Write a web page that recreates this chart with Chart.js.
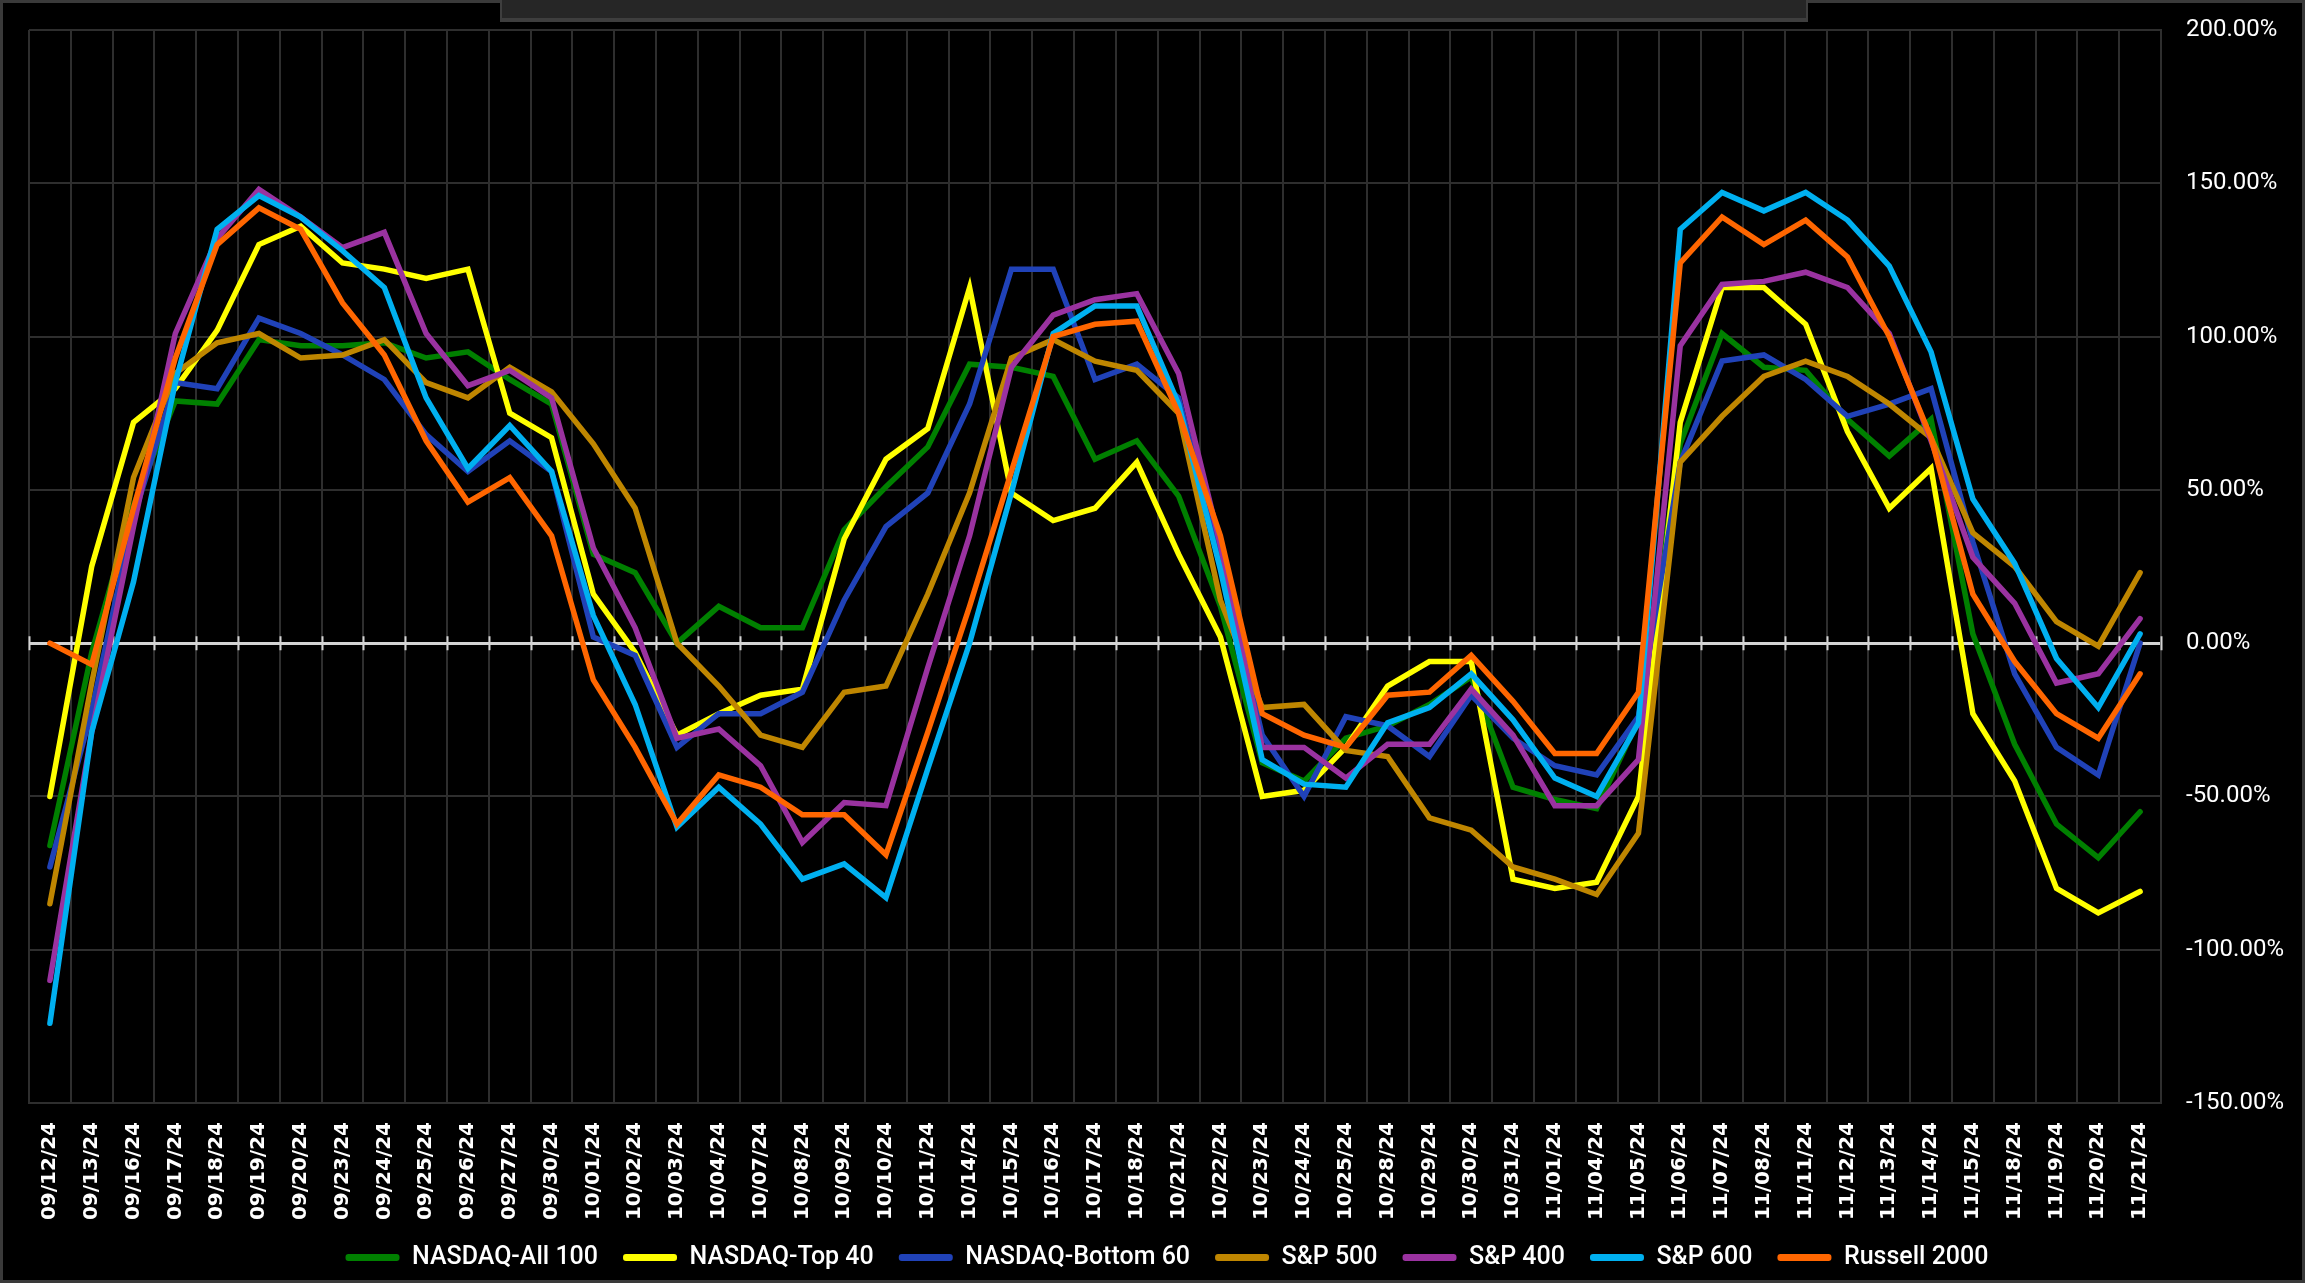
<!DOCTYPE html>
<html>
<head>
<meta charset="utf-8">
<title>Index momentum</title>
<script src="https://cdn.jsdelivr.net/npm/chart.js@4.4.1/dist/chart.umd.min.js"></script>
<style>
  html, body { margin: 0; padding: 0; background: #000; }
  #wrap { width: 2305px; height: 1283px; }
</style>
</head>
<body>
<div id="wrap"><canvas id="chart" width="2305" height="1283"></canvas></div>
<script>
// categories (trading days)
const labels = [
  '09/12/24', '09/13/24', '09/16/24', '09/17/24', '09/18/24', '09/19/24', '09/20/24',
  '09/23/24', '09/24/24', '09/25/24', '09/26/24', '09/27/24', '09/30/24', '10/01/24',
  '10/02/24', '10/03/24', '10/04/24', '10/07/24', '10/08/24', '10/09/24', '10/10/24',
  '10/11/24', '10/14/24', '10/15/24', '10/16/24', '10/17/24', '10/18/24', '10/21/24',
  '10/22/24', '10/23/24', '10/24/24', '10/25/24', '10/28/24', '10/29/24', '10/30/24',
  '10/31/24', '11/01/24', '11/04/24', '11/05/24', '11/06/24', '11/07/24', '11/08/24',
  '11/11/24', '11/12/24', '11/13/24', '11/14/24', '11/15/24', '11/18/24', '11/19/24',
  '11/20/24', '11/21/24'
];

// series values, percent
const nasdaqAll100 = [-66, -3, 45, 79, 78, 99, 97, 97, 98, 93, 95, 86, 78, 29, 23, 0, 12, 5, 5, 37, 51, 64, 91, 90, 87, 60, 66, 48, 12, -39, -45, -31, -27, -20, -11, -47, -51, -54, -25, 65, 101, 90, 89, 73, 61, 73, 3, -33, -59, -70, -55];
const nasdaqTop40 = [-50, 25, 72, 83, 102, 130, 136, 124, 122, 119, 122, 75, 67, 16, -3, -30, -23, -17, -15, 34, 60, 70, 116, 49, 40, 44, 59, 29, 2, -50, -48, -34, -14, -6, -6, -77, -80, -78, -50, 72, 116, 116, 104, 69, 44, 57, -23, -45, -80, -88, -81];
const nasdaqBottom60 = [-73, -22, 41, 85, 83, 106, 101, 94, 86, 68, 56, 66, 56, 2, -4, -34, -23, -23, -16, 14, 38, 49, 78, 122, 122, 86, 91, 80, 28, -30, -50, -24, -27, -37, -17, -31, -40, -43, -24, 59, 92, 94, 86, 74, 78, 83, 33, -10, -34, -43, 0];
const sp500 = [-85, -13, 54, 88, 98, 101, 93, 94, 99, 85, 80, 90, 82, 65, 44, 0, -14, -30, -34, -16, -14, 16, 49, 93, 99, 92, 89, 75, 14, -21, -20, -35, -37, -57, -61, -73, -77, -82, -62, 59, 74, 87, 92, 87, 78, 67, 36, 25, 7, -1, 23];
const sp400 = [-110, -29, 38, 101, 132, 148, 139, 129, 134, 101, 84, 89, 80, 31, 5, -31, -28, -40, -65, -52, -53, -8, 35, 90, 107, 112, 114, 88, 32, -34, -34, -44, -33, -33, -15, -30, -53, -53, -38, 97, 117, 118, 121, 116, 101, 66, 28, 13, -13, -10, 8];
const sp600 = [-124, -29, 20, 85, 135, 146, 139, 128, 116, 80, 57, 71, 56, 9, -20, -60, -47, -59, -77, -72, -83, -41, 0, 49, 101, 110, 110, 78, 24, -38, -46, -47, -26, -21, -10, -25, -44, -50, -26, 135, 147, 141, 147, 138, 123, 95, 47, 26, -5, -21, 3];
const russell2000 = [0, -7, 44, 93, 130, 142, 135, 111, 94, 66, 46, 54, 35, -12, -34, -59, -43, -47, -56, -56, -69, -29, 12, 56, 100, 104, 105, 75, 35, -23, -30, -34, -17, -16, -4, -19, -36, -36, -16, 124, 139, 130, 138, 126, 100, 67, 16, -6, -23, -31, -10];

const seriesNames = ['NASDAQ-All 100', 'NASDAQ-Top 40', 'NASDAQ-Bottom 60', 'S&P 500', 'S&P 400', 'S&P 600', 'Russell 2000'];
const seriesValues = [nasdaqAll100, nasdaqTop40, nasdaqBottom60, sp500, sp400, sp600, russell2000];
const seriesColors = ['#008000', '#FFFF00', '#2042B8', '#BF8600', '#9A32A0', '#00B0F0', '#FF6600'];

// y axis tick range
const yMin = -150;
const yMax = 200;
const yStep = 50;

const gridColor = '#2e2e2e';

// black page, frame and the grey header bar at the top
const framePlugin = {
  id: 'frame',
  beforeDraw(chart) {
    const ctx = chart.ctx;
    ctx.save();
    ctx.fillStyle = '#000';
    ctx.fillRect(0, 0, chart.width, chart.height);
    ctx.strokeStyle = '#3a3a3a';
    ctx.lineWidth = 3;
    ctx.strokeRect(1.5, 1.5, chart.width - 3, chart.height - 3);
    ctx.fillStyle = '#3e3e3e';
    ctx.fillRect(500, 0, 1308, 22);
    ctx.fillStyle = '#262626';
    ctx.fillRect(502, 0, 1304, 18);
    ctx.restore();
  }
};

// small tick marks on the zero line at every category boundary
const zeroTicksPlugin = {
  id: 'zeroTicks',
  beforeDatasetsDraw(chart) {
    const ctx = chart.ctx;
    const area = chart.chartArea;
    const y0 = chart.scales.y.getPixelForValue(0);
    const step = (area.right - area.left) / labels.length;
    ctx.save();
    ctx.strokeStyle = '#d4d4d4';
    ctx.lineWidth = 2;
    ctx.beginPath();
    for (let i = 0; i <= labels.length; i++) {
      const x = Math.round(area.left + i * step) + 0.5;
      ctx.moveTo(x, y0 - 7);
      ctx.lineTo(x, y0 + 7);
    }
    ctx.stroke();
    ctx.restore();
  }
};

const datasets = seriesNames.map((name, i) => ({
  label: name,
  data: seriesValues[i],
  borderColor: seriesColors[i],
  backgroundColor: seriesColors[i],
  borderWidth: 5.5,
  borderCapStyle: 'round',
  borderJoinStyle: 'miter',
  pointRadius: 0,
  pointHoverRadius: 0,
  tension: 0,
  fill: false,
  order: seriesNames.length - i   // last series drawn on top
}));

const ctx = document.getElementById('chart').getContext('2d');

new Chart(ctx, {
  type: 'line',
  data: { labels: labels, datasets: datasets },
  options: {
    responsive: false,
    animation: false,
    devicePixelRatio: 1,
    layout: { padding: { left: 29, top: 30, right: 0, bottom: 3 } },
    plugins: {
      tooltip: { enabled: false },
      title: { display: false },
      legend: {
        position: 'bottom',
        labels: {
          color: '#ffffff',
          font: { family: 'Roboto', size: 25, weight: '500' },
          boxWidth: 54,
          boxHeight: 7,
          padding: 25,
          useBorderRadius: true,
          borderRadius: 3,
          sort: (a, b) => a.datasetIndex - b.datasetIndex,
          generateLabels(chart) {
            const items = Chart.defaults.plugins.legend.labels.generateLabels(chart);
            items.forEach(it => {
              it.lineWidth = 0;
              it.fillStyle = seriesColors[it.datasetIndex];
            });
            return items;
          }
        }
      }
    },
    scales: {
      x: {
        offset: true,
        grid: { color: gridColor, lineWidth: 2, offset: true, drawTicks: false },
        border: { color: gridColor, width: 2 },
        ticks: {
          color: '#ffffff',
          font: { family: 'DejaVu Sans', size: 20, weight: 'bold' },
          minRotation: 90,
          maxRotation: 90,
          autoSkip: false,
          padding: 19
        },
        afterFit(scale) { scale.height = 117; }
      },
      y: {
        position: 'right',
        min: yMin,
        max: yMax,
        grid: {
          drawTicks: false,
          color: c => (c.tick && c.tick.value === 0 ? '#d4d4d4' : gridColor),
          lineWidth: c => (c.tick && c.tick.value === 0 ? 3 : 2)
        },
        border: { color: gridColor, width: 2 },
        ticks: {
          stepSize: yStep,
          color: '#ffffff',
          font: { family: 'Roboto', size: 24 },
          padding: 25,
          callback: v => v.toFixed(2) + '%'
        },
        afterFit(scale) {
          scale.width = 144;
          // the tick padding would otherwise push the plot top down
          scale.paddingTop = 0;
          scale.paddingBottom = 0;
        }
      }
    }
  },
  plugins: [framePlugin, zeroTicksPlugin]
});
</script>
</body>
</html>
